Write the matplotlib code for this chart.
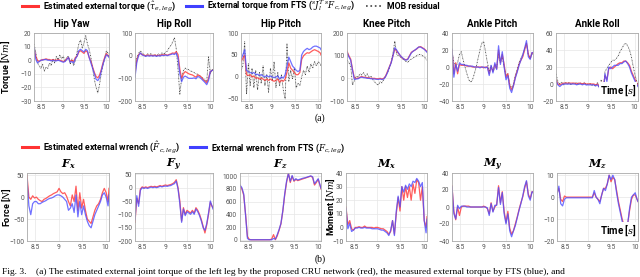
import matplotlib
matplotlib.use("Agg")
import matplotlib.pyplot as plt
from matplotlib.lines import Line2D

plt.rcParams['font.family'] = ['Roboto', 'DejaVu Sans']
plt.rcParams['mathtext.fontset'] = 'dejavuserif'

t = [8.33, 8.37, 8.41, 8.45, 8.49, 8.53, 8.57, 8.61, 8.65, 8.69, 8.73, 8.77, 8.81,
     8.85, 8.89, 8.93, 8.97, 9.01, 9.05, 9.09, 9.13, 9.17, 9.21, 9.25, 9.29, 9.33,
     9.37, 9.41, 9.45, 9.49, 9.53, 9.57, 9.61, 9.65, 9.69, 9.73, 9.77, 9.81, 9.85,
     9.89, 9.93, 9.97, 10.01, 10.05, 10.07]

x_ticks = [8.5, 9, 9.5, 10]
x_ticklabels = ['8.5', '9', '9.5', '10']

# ---------- (a) joint torques ----------
joint_names = ['Hip Yaw', 'Hip Roll', 'Hip Pitch', 'Knee Pitch', 'Ankle Pitch', 'Ankle Roll']

hip_yaw_est = [8, 3, 0, -1, 0, 0.5, 0.5, 1, 0.5, 0.5, 0, 0.5, 0, 0, 0.5, 0, -0.5, -1, -0.5, 1, 2, -1, 0, -1, 2, 3,
               6, 7, 6, 5, 7, 6, 2, -1, -5, -9, -12, -13, -11, -7, -2, 2, 5, 3, 3]
hip_yaw_fts = [9, 1, -2, -1, 0, 0, 0.5, 0.5, 0, 0, -0.5, 0, -0.5, -0.5, 0, -0.5, -1, -1.5, -1, 0.5, 2, -1.5, -1, -2, 1, 3,
               7, 8, 7, 6, 8, 7, 2, -2, -6, -10, -14, -15, -13, -8, -3, 1, 4, 3, 2]
hip_yaw_mob = [12, 6, -2, -4, -6, -3, -8, -5, -6, -2, -4, 1, -2, 3, 0, 4, 1, 3, -1, 2, 3, -3, 1, -4, 0, 6,
               12, 15, 9, 13, 18, 12, 8, 2, -6, -14, -20, -24, -18, -10, -4, 2, 7, 5, 3]

hip_roll_est = [-80, -20, 5, 10, 5, 2, 0, 3, 0, 2, 0, 3, 0, 2, 0, 5, 3, 5, 2, 5, 8, 12, 10, 18, 5, -60,
                -100, -80, -70, -75, -80, -83, -85, -90, -95, -85, -88, -95, -105, -112, -120, -100, -70, -65, -65]
hip_roll_fts = [-95, -30, 0, 12, 3, 0, -3, 0, -2, 0, -2, 0, -3, 0, -2, 2, 0, 3, 0, 3, 5, 8, 5, 12, -10, -80,
                -115, -95, -90, -95, -100, -100, -100, -98, -102, -92, -95, -102, -110, -118, -128, -110, -70, -65, -65]
hip_roll_mob = [-60, -10, 10, 22, 10, 5, -2, 8, 3, 10, 0, 5, -3, 8, 2, 12, 6, 15, 20, 35, 45, 60, 80, 30, -60, -170,
                -100, -65, -55, -60, -62, -68, -70, -75, -80, -82, -88, -95, -100, -108, -115, -5, -80, -60, -62]

hip_pitch_est = [35, 42, 50, 5, 3, 5, 0, 2, -3, -2, -5, -3, -5, -8, -5, -8, -5, -8, -10, -8, -5, -12, -8, -10, -5, 10,
                 32, 20, 15, 10, 5, 5, 10, 40, 48, 52, 55, 54, 57, 60, 62, 60, 58, 55, 50]
hip_pitch_fts = [40, 50, 62, 15, 12, 10, 8, 10, 5, 6, 3, 5, 2, 0, 3, 0, 2, 0, -2, 0, 2, -5, 0, -3, 5, 25,
                 45, 35, 25, 20, 15, 12, 15, 50, 58, 62, 65, 62, 64, 68, 70, 70, 68, 66, 62]
hip_pitch_mob = [15, 25, 80, -40, 30, -20, 20, -25, 15, -30, 10, -15, 25, -20, 5, -35, 20, -10, 35, -25, 10, -20, 5, -30, -50, 75,
                 -10, 15, -5, 20, -25, -15, -20, 0, 15, 5, 25, 10, 30, 20, 35, 25, 35, 30, 25]

knee_pitch_est = [120, 100, 85, 40, 2, 0, 0, 5, 8, 5, 5, 3, 2, 0, 0, 0, -2, -2, 0, -3, 0, 10, 30, 50, 70, 100,
                  130, 120, 110, 100, 90, 85, 82, 85, 100, 115, 120, 125, 130, 138, 140, 135, 130, 122, 118]
knee_pitch_fts = [115, 95, 80, 35, -5, -3, -2, 3, 5, 3, 2, 0, 0, -2, -2, -3, -4, -5, -3, -5, -3, 8, 25, 48, 68, 100,
                  135, 125, 112, 100, 92, 85, 80, 83, 98, 112, 120, 125, 132, 138, 138, 133, 128, 120, 115]
knee_pitch_mob = [80, 70, 55, -30, -10, 10, 5, 20, 15, 25, 10, 20, 5, 10, -5, -15, -25, -30, -15, -20, -5, 10, 25, 45, 70, 110,
                  165, 105, 100, 95, 88, 80, 75, 70, 80, 85, 90, 95, 100, 105, 105, 100, 95, 85, 80]

ankle_pitch_est = [20, -8, 5, -8, 3, 2, 2, 2, 1, 1, 1, 0, 0, 0, 0, 0, 0, -1, 0, 0, -8, 0, -5, 3, -2, 20,
                   5, 15, 3, -12, -8, -22, -27, -22, -12, -5, 3, 8, 12, 20, 28, 15, 10, 17, 16]
ankle_pitch_fts = [21, -12, 3, -5, 5, 3, 3, 2, 2, 1, 1, 1, 0, 0, 0, -1, 0, 0, -1, 0, -10, 2, -7, 5, -3, 25,
                   3, 18, 0, -15, -10, -25, -30, -22, -13, -6, 2, 8, 14, 22, 31, 12, 9, 17, 17]
ankle_pitch_mob = [20, 5, 0, 5, 15, 18, 8, 0, -8, -15, -18, -15, -8, 0, 10, 20, 28, 30, 18, 5, -5, 2, -5, -2, 0, 15,
                   5, 12, 0, -10, -8, -20, -25, -20, -10, -3, 5, 10, 15, 22, 28, 14, 10, 16, 15]

ankle_roll_est = [5, 0, -1, 0, 1, 1, 1, 1, 1, 1, 1, 0, 1, 1, 0, 1, 0, 0, 0, 0, 0, -1, 0, -3, 2, -5,
                  10, 5, 18, 20, 18, 20, 22, 24, 25, 25, 27, 27, 25, 22, 15, 10, 5, 0, -2]
ankle_roll_fts = [4, -1, -3, -1, 0, 0, 0, 0, 0, 0, 0, -1, 0, 0, -1, 0, -1, -1, -1, -1, -1, -2, -1, -4, 0, -15,
                  12, 3, 20, 18, 20, 22, 22, 22, 24, 24, 26, 27, 24, 20, 13, 8, 3, -1, -3]
ankle_roll_mob = [12, 3, 0, 2, -1, 2, 0, 2, -1, 1, 0, 2, -1, 1, 0, 2, -1, 0, 1, -2, 0, -3, 2, -5, 5, -12,
                  15, 18, 22, 25, 28, 28, 30, 33, 38, 42, 46, 48, 45, 40, 32, 20, 10, 2, 0]

torque_est = [hip_yaw_est, hip_roll_est, hip_pitch_est, knee_pitch_est, ankle_pitch_est, ankle_roll_est]
torque_fts = [hip_yaw_fts, hip_roll_fts, hip_pitch_fts, knee_pitch_fts, ankle_pitch_fts, ankle_roll_fts]
torque_mob = [hip_yaw_mob, hip_roll_mob, hip_pitch_mob, knee_pitch_mob, ankle_pitch_mob, ankle_roll_mob]
torque_ylims = [(-30, 20), (-200, 100), (-55, 100), (-100, 200), (-40, 40), (-20, 60)]
torque_yticks = [[-30, -20, -10, 0, 10, 20], [-200, -100, 0, 100], [-50, 0, 50, 100],
                 [-100, 0, 100, 200], [-40, -20, 0, 20, 40], [-20, 0, 20, 40, 60]]

# ---------- (b) wrenches ----------
wrench_names = [r'$\mathbfit{F}_{\mathbfit{x}}$', r'$\mathbfit{F}_{\mathbfit{y}}$', r'$\mathbfit{F}_{\mathbfit{z}}$',
                r'$\mathbfit{M}_{\mathbfit{x}}$', r'$\mathbfit{M}_{\mathbfit{y}}$', r'$\mathbfit{M}_{\mathbfit{z}}$']

fx_est = [50, 0, -5, 3, -2, 0, -5, -8, -10, -5, -3, 0, 3, 5, 8, 10, 12, 20, 12, 8, 10, 2, -10, -20, 5, -10,
          25, -30, 10, -25, -5, -30, -50, -55, -60, -45, -30, -20, -15, -5, 10, 20, 10, -10, 20]
fx_fts = [40, -20, -40, -15, -10, -10, -15, -15, -12, -10, -8, -5, -3, -2, 0, 3, 5, 5, 3, 0, -5, -10, -30, -25, -15, -35,
          5, -45, -10, -40, -20, -40, -55, -65, -70, -55, -40, -30, -20, -10, 5, 10, 0, -20, 5]
fy_est = [-130, -40, -60, -5, 3, 0, 3, 0, 3, 5, 3, 5, 3, 5, 8, 5, 8, 10, 8, 10, 12, 15, 20, 30, 0, -50,
          -125, -75, -100, -85, -90, -95, -85, -95, -75, -85, -100, -120, -145, -170, -140, -100, -55, -70, -75]
fy_fts = [-120, -30, -70, -10, 0, -3, 0, -3, 0, 2, 0, 2, 0, 2, 5, 3, 5, 6, 5, 7, 8, 12, 15, 25, -5, -60,
          -130, -80, -105, -90, -95, -100, -90, -100, -80, -90, -105, -125, -150, -160, -135, -95, -50, -70, -80]
fz_est = [850, 800, 700, 400, 50, 5, 0, 0, 0, 0, 0, 0, 0, 0, 0, 0, 0, 10, 80, 0, 60, 150, 250, 450, 700, 900,
          1050, 900, 1000, 920, 950, 930, 940, 950, 960, 970, 980, 990, 1000, 980, 860, 900, 950, 850, 800]
fz_fts = [860, 820, 720, 380, 20, 0, 0, 0, 0, 0, 0, 0, 0, 0, 0, 0, 0, 0, 20, 10, 80, 160, 260, 460, 720, 920,
          1040, 920, 1010, 930, 960, 940, 950, 960, 970, 975, 985, 995, 1005, 990, 880, 920, 960, 860, 810]
mx_est = [15, 2, 5, -1, -2, 0, 0, 0.5, 0, 0, 1, 0, 0, 0, 0, -0.5, 0, 0, -0.5, -1, -1, -2, -3, -5, -3, 5,
          -5, 10, 22, 12, 30, 20, 30, 22, 30, 20, 32, 25, 35, 33, 20, 30, 5, 0, 8]
mx_fts = [14, -1, 3, -3, -2, -0.5, -0.5, 0, -0.5, -0.5, 0, -0.5, -0.5, -0.5, -1, -1, -1, -1, -1.5, -2, -2, -3, -4, -6, -2, 5,
          -6, 12, 23, 15, 30, 26, 31, 28, 32, 30, 34, 33, 36, 34, 30, 33, 5, -4, 6]
my_est = [25, -5, -15, 0, -10, 0, 1, 1, 1, 1, 0, 0, 0, 0, 0, 0, 0, 1, 0, -2, -8, 5, -5, 0, 3, 25,
          5, 18, -5, -18, -5, -25, -32, -28, -20, -12, -3, 5, 12, 22, 30, 15, 10, 18, 18]
my_fts = [24, -8, -14, 2, -2, 1, 1, 1, 0, 0, 0, 0, 0, 0, 0, 0, 0, 0, 0, -1, -10, 4, -6, 2, 2, 23,
          3, 17, -8, -20, -8, -28, -35, -28, -22, -13, -4, 4, 13, 24, 31, 13, 8, 18, 17]
mz_est = [2, 4, -1, -2, 0.5, 0, 0, 0, 0, 0, 0, 0, 0, 0, 0, 0, 0, 0, 0, 0, 2, 0, -1, -2, 1, 4,
          4, 6, 10, 7, 9, 8, 3, -2, -6, -10, -13, -14, -12, -6, -1, 1, 1, -1, -2]
mz_fts = [1, 5, -3, -4, -1, -0.3, -0.3, -0.3, -0.3, -0.3, -0.3, -0.3, -0.3, -0.3, -0.3, -0.3, -0.3, -0.3, -0.3, -0.3, 3, 0, -1, -3, 1, 4,
          3, 6, 10, 8, 10, 8, 2, -3, -7, -11, -14, -15, -12, -5, 0, 1, 2, -1, -2]

wrench_est = [fx_est, fy_est, fz_est, mx_est, my_est, mz_est]
wrench_fts = [fx_fts, fy_fts, fz_fts, mx_fts, my_fts, mz_fts]
wrench_ylims = [(-100, 55), (-200, 55), (-20, 1050), (-10, 40), (-40, 40), (-20, 11)]
wrench_yticks = [[-100, -50, 0, 50], [-200, -150, -100, -50, 0, 50], [0, 200, 400, 600, 800, 1000],
                 [-10, 0, 10, 20, 30, 40], [-40, -20, 0, 20, 40], [-20, -10, 0, 10]]

# ---------- styling ----------
RED = (1.0, 0.25, 0.25, 0.85)
BLUE = (0.3, 0.3, 1.0, 0.8)
MOB = '#444444'
W, H = 640, 277

fig = plt.figure(figsize=(6.4, 2.77), dpi=100)


def ax_at(l, r, top, bot):
    return fig.add_axes([l / W, 1 - bot / H, (r - l) / W, (bot - top) / H])


def style(ax, ylim, yticks):
    ax.set_xlim(8.33, 10.07)
    ax.set_ylim(*ylim)
    ax.set_xticks(x_ticks)
    ax.set_xticklabels(x_ticklabels)
    ax.set_yticks(yticks)
    ax.tick_params(labelsize=4.8, colors='#555555', length=0, pad=2)
    ax.grid(True, color='#e6e6e6', lw=0.5)
    ax.set_axisbelow(True)
    for s in ax.spines.values():
        s.set_color('#aaaaaa')
        s.set_linewidth(0.6)


def ylab(ax, text, x_px, left_px, right_px):
    # x_px is the right edge of the rotated label
    ax.set_ylabel(text, fontsize=6.5, fontweight='bold')
    ax.yaxis.set_label_coords((x_px - left_px) / (right_px - left_px), 0.5)


def time_label(ax):
    ax.text(0.98, 0.04, r'Time [$s$]', transform=ax.transAxes, ha='right', va='bottom',
            fontsize=7, fontweight='bold',
            bbox=dict(boxstyle='square,pad=0.1', fc='white', ec='none'))


top_lr = [(34, 109), (135, 213), (241, 321), (347, 427), (452, 533), (556, 638)]
bot_lr = [(27, 109), (135, 213), (240, 321), (346, 427), (452, 533), (557, 638)]

for i in range(6):
    ax = ax_at(top_lr[i][0], top_lr[i][1], 33, 101)
    ax.plot(t, torque_mob[i], color=MOB, lw=0.6, ls=(0, (1.5, 1, 0.5, 1)))
    ax.plot(t, torque_est[i], color=RED, lw=0.9)
    ax.plot(t, torque_fts[i], color=BLUE, lw=0.9)
    style(ax, torque_ylims[i], torque_yticks[i])
    ax.set_title(joint_names[i], fontsize=7, fontweight='bold', pad=4)
    if i == 0:
        ylab(ax, r'Torque [$Nm$]', 13, *top_lr[i])
    if i == 5:
        time_label(ax)

for i in range(6):
    ax = ax_at(bot_lr[i][0], bot_lr[i][1], 173, 241)
    ax.plot(t, wrench_est[i], color=RED, lw=0.9)
    ax.plot(t, wrench_fts[i], color=BLUE, lw=0.9)
    style(ax, wrench_ylims[i], wrench_yticks[i])
    ax.set_title(wrench_names[i], fontsize=8, pad=4)
    if i == 0:
        ylab(ax, r'Force [$N$]', 13, *bot_lr[i])
    if i == 3:
        ylab(ax, r'Moment [$Nm$]', 337, *bot_lr[i])
    if i == 5:
        time_label(ax)

# legends
h_red = Line2D([], [], color=(1, 0.2, 0.2), lw=2.2)
h_blue = Line2D([], [], color=(0.25, 0.25, 1), lw=2.2)
h_mob = Line2D([], [], color=MOB, lw=1.2, ls=':')
leg_kw = dict(frameon=False, ncol=3, handlelength=1.8, handletextpad=0.6, columnspacing=1.2,
              borderaxespad=0, borderpad=0, prop={'size': 6.3, 'weight': 'bold'})
fig.legend([h_red, h_blue, h_mob],
           [r'Estimated external torque ($\hat{\tau}_{e,leg}$)',
            r'External torque from FTS ($^{s}J_{l}^{T}\,^{s}F_{c,leg}$)',
            'MOB residual'],
           loc='center left', bbox_to_anchor=(22 / W, 1 - 6 / H), **leg_kw)
fig.legend([h_red, h_blue],
           [r'Estimated external wrench ($\hat{F}_{c,leg}$)',
            r'External wrench from FTS ($F_{c,leg}$)'],
           loc='center left', bbox_to_anchor=(22 / W, 1 - 147 / H), **leg_kw)

fig.text(320 / W, 1 - 118 / H, '(a)', ha='center', va='center', fontsize=7, family='Liberation Serif')
fig.text(320 / W, 1 - 259 / H, '(b)', ha='center', va='center', fontsize=7, family='Liberation Serif')
fig.text(2 / W, 1 - 268.5 / H,
         'Fig. 3.    (a) The estimated external joint torque of the left leg by the proposed CRU network (red), '
         'the measured external torque by FTS (blue), and',
         ha='left', va='top', fontsize=6.8, family='Liberation Serif')

fig.savefig('out.png', dpi=100)
